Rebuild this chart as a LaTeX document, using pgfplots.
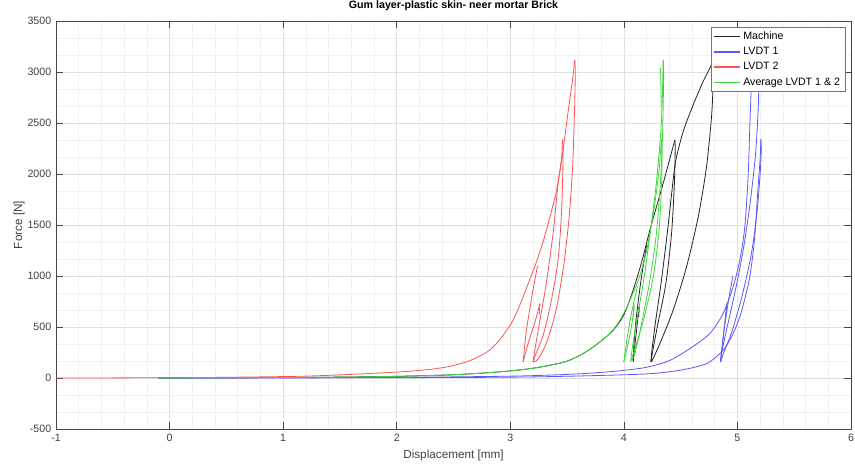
\documentclass[border=0pt]{standalone}
\usepackage{fontspec}
\setmainfont{Liberation Sans}
\usepackage{pgfplots}
\pgfplotsset{compat=1.18}
\definecolor{mach}{RGB}{35,35,35}
\definecolor{lvdtone}{RGB}{90,90,245}
\definecolor{lvdttwo}{RGB}{250,85,85}
\definecolor{avgc}{RGB}{60,215,60}
\definecolor{axc}{RGB}{70,70,70}
\begin{document}
\begin{tikzpicture}
\begin{axis}[
 scale only axis, width=596.25pt, height=306pt,
 xmin=-1, xmax=6, ymin=-500, ymax=3500,
 xtick={-1,0,1,2,3,4,5,6}, ytick={-500,0,500,1000,1500,2000,2500,3000,3500},
 minor x tick num=4, minor y tick num=2,
 grid=both,
 major grid style={gray!25, line width=0.4pt},
 minor grid style={gray!11, line width=0.4pt},
 tick align=inside, tick pos=both,
 major tick length=5pt, minor tick length=0pt,
 axis line style={axc, line width=0.5pt},
 every tick/.style={axc, line width=0.5pt},
 tick label style={font=\fontsize{8}{9}\selectfont, text=black!75},
 /pgf/number format/assume math mode=true,
 /pgf/number format/1000 sep={},
 scaled y ticks=false,
 title={\textbf{Gum layer-plastic skin- neer mortar Brick}},
 title style={font=\fontsize{8}{9}\selectfont, at={(axis description cs:0.5,1.0172)}, anchor=center},
 xlabel={Displacement [mm]}, ylabel={Force [N]},
 xlabel style={font=\fontsize{8.8}{10}\selectfont, text=black!75, at={(axis description cs:0.5,-0.0637)}, anchor=center},
 ylabel style={font=\fontsize{8.8}{10}\selectfont, text=black!75, at={(axis description cs:-0.0465,0.5)}, anchor=center},
 legend style={at={(0.9925,0.9846)}, anchor=north east, draw=black!55, fill=white,
   font=\fontsize{8}{9.6}\selectfont, inner xsep=1.5pt, inner ysep=1pt, row sep=0.4pt},
 legend cell align=left,
 legend image code/.code={\draw[#1, line width=1.2pt] (0pt,0pt) -- (19pt,0pt);},
 every axis plot/.append style={line width=0.6pt, line join=round},
 seg/.style={smooth, tension=0.45, forget plot},
]
\coordinate (bl) at (rel axis cs:0,0);
\coordinate (tr) at (rel axis cs:1,1);
\addlegendimage{color=mach}\addlegendentry{Machine}
\addlegendimage{color=lvdtone}\addlegendentry{LVDT 1}
\addlegendimage{color=lvdttwo}\addlegendentry{LVDT 2}
\addlegendimage{color=avgc}\addlegendentry{Average LVDT 1 \& 2}
% ---------------- Machine ----------------
\addplot[mach, seg] coordinates {
(-0.1,0) (0.5,3) (1.15,6) (1.6,10) (2.03,17) (2.5,32) (2.89,59) (3.15,88) (3.35,125) (3.5,165)
(3.613,223) (3.7,280) (3.79,354) (3.906,468) (4.0,620) (4.082,861) (4.16,1150) (4.229,1450)
(4.29,1690) (4.346,1908) (4.40,2130) (4.449,2333)};
\addplot[mach, seg] coordinates {
(4.449,2333) (4.452,2250) (4.445,1908) (4.42,1418) (4.37,927) (4.30,534) (4.26,300) (4.238,157)};
\addplot[mach, seg] coordinates {
(4.238,157) (4.25,300) (4.28,560) (4.33,950) (4.38,1400) (4.42,1800) (4.455,2120) (4.522,2415)
(4.61,2677) (4.698,2906) (4.786,3102)};
\addplot[mach, seg] coordinates {
(4.786,3102) (4.786,2890) (4.772,2562) (4.728,2072) (4.655,1581) (4.552,1090) (4.434,665) (4.317,338) (4.244,157)};
\addplot[mach, seg] coordinates {(4.20,1300) (4.15,950) (4.11,600) (4.09,350) (4.082,160)};
\addplot[mach, seg] coordinates {(4.082,160) (4.10,350) (4.12,550) (4.135,700)};
\addplot[mach, forget plot] coordinates {(4.135,700) (4.13,600)};
% ---------------- LVDT 1 ----------------
\addplot[lvdtone, seg] coordinates {
(-0.1,0) (1,1) (2,3) (3,8) (3.613,20) (4.2,40) (4.493,76) (4.728,141) (4.874,272) (4.962,436)
(5.021,599) (5.07,800) (5.11,1000) (5.15,1352) (5.18,1843) (5.20,2150) (5.206,2340)};
\addplot[lvdtone, seg] coordinates {
(5.206,2340) (5.21,2250) (5.20,2000) (5.17,1600) (5.12,1200) (5.04,800) (4.95,450) (4.88,250) (4.851,157)};
\addplot[lvdtone, seg] coordinates {
(4.851,157) (4.87,300) (4.92,550) (4.98,850) (5.05,1250) (5.11,1700) (5.16,2200) (5.185,2700) (5.19,3100)};
\addplot[lvdtone, forget plot] coordinates {(5.19,3100) (5.13,3100)};
\addplot[lvdtone, seg] coordinates {
(5.13,3100) (5.124,2923) (5.109,2464) (5.094,1973) (5.065,1482) (5.021,1156) (4.962,893)
(4.874,632) (4.757,436) (4.581,288) (4.4,170) (4.2,105) (4.0,75) (3.8,55) (3.5,35) (3.0,18)
(2.0,6) (1.0,2) (-0.1,0)};
\addplot[lvdtone, seg] coordinates {(4.96,1000) (4.92,750) (4.88,450) (4.851,157)};
\addplot[lvdtone, seg] coordinates {(4.851,157) (4.875,400) (4.895,600) (4.904,730)};
\addplot[lvdtone, forget plot] coordinates {(4.904,730) (4.90,620)};
% ---------------- LVDT 2 ----------------
\addplot[lvdttwo, seg] coordinates {
(-1,0) (-0.5,1) (0,3) (0.5,7) (1.15,17) (1.59,35) (2.03,60) (2.3,85) (2.47,115) (2.62,160)
(2.73,215) (2.82,275) (2.91,380) (3.0,520) (3.06,650) (3.113,795) (3.17,960) (3.231,1140)
(3.29,1340) (3.334,1516) (3.375,1690) (3.408,1843) (3.435,2020) (3.452,2170) (3.460,2334)};
\addplot[lvdttwo, seg] coordinates {
(3.460,2334) (3.465,2250) (3.462,2000) (3.45,1600) (3.42,1150) (3.36,750) (3.29,420) (3.23,250) (3.201,157)};
\addplot[lvdttwo, seg] coordinates {
(3.201,157) (3.22,300) (3.26,560) (3.32,950) (3.38,1450) (3.42,1900) (3.455,2150) (3.49,2450)
(3.52,2700) (3.545,2900) (3.569,3119)};
\addplot[lvdttwo, seg] coordinates {
(3.569,3119) (3.572,2950) (3.565,2600) (3.55,2100) (3.52,1600) (3.47,1100) (3.40,650) (3.32,350) (3.25,190) (3.21,160)};
\addplot[lvdttwo, seg] coordinates {(3.24,1100) (3.19,800) (3.14,450) (3.113,157)};
\addplot[lvdttwo, seg] coordinates {(3.113,157) (3.16,350) (3.22,560) (3.261,730)};
\addplot[lvdttwo, forget plot] coordinates {(3.261,730) (3.255,620)};
% ---------------- Average ----------------
\addplot[avgc, seg] coordinates {
(-0.1,0) (0.5,3) (1.15,6) (1.6,10) (2.03,17) (2.5,32) (2.89,59) (3.15,88) (3.35,125) (3.5,165)
(3.613,223) (3.70,280) (3.79,354) (3.88,440) (3.95,540) (4.02,680) (4.08,830) (4.14,1000)
(4.20,1250) (4.25,1550) (4.29,1850) (4.315,2100) (4.33,2340)};
\addplot[avgc, seg] coordinates {
(4.33,2340) (4.335,2200) (4.332,1900) (4.31,1450) (4.26,1000) (4.18,600) (4.11,330) (4.06,160)};
\addplot[avgc, seg] coordinates {
(4.06,160) (4.075,300) (4.12,600) (4.18,1000) (4.235,1450) (4.28,1850) (4.31,2200) (4.33,2500) (4.34,2800) (4.346,3119)};
\addplot[avgc, seg] coordinates {
(4.346,3119) (4.35,2950) (4.345,2600) (4.335,2200) (4.315,1800) (4.28,1350) (4.22,900) (4.15,500) (4.10,250) (4.07,170)};
\addplot[avgc, forget plot] coordinates {(4.323,3037) (4.33,2650)};
\addplot[avgc, seg] coordinates {(4.12,900) (4.07,650) (4.03,400) (4.0,157)};
\addplot[avgc, seg] coordinates {(4.0,157) (4.04,350) (4.075,560) (4.09,720)};
\addplot[avgc, forget plot] coordinates {(4.09,720) (4.085,600)};
\end{axis}
\pgfresetboundingbox
\path ([shift={(-42pt,-26.25pt)}]bl) rectangle ([shift={(3pt,15.75pt)}]tr);
\end{tikzpicture}
\end{document}
